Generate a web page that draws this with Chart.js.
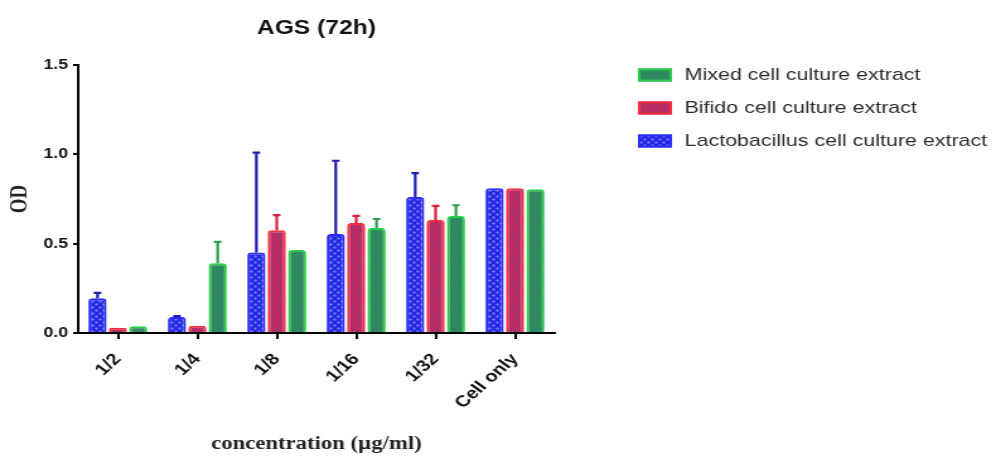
<!DOCTYPE html>
<html>
<head>
<meta charset="utf-8">
<title>AGS (72h)</title>
<script src="https://cdn.jsdelivr.net/npm/chart.js@4/dist/chart.umd.min.js"></script>
<style>
  html, body { margin: 0; padding: 0; background: #fff; overflow: hidden; }
  #c { display: block; }
</style>
</head>
<body>
<!-- the figure is laid out on a narrower canvas and shown stretched to full width -->
<canvas id="c" width="790" height="458" style="width:996px;height:458px"></canvas>
<script>
// ---- data ----
const concentrations = ['1/2', '1/4', '1/8', '1/16', '1/32', 'Cell only'];
const yTickValues = [0, 0.5, 1.0, 1.5];

const lactobacillusOD = [0.195, 0.09, 0.45, 0.554, 0.761, 0.81];
const lactobacillusSD = [0.03, 0.005, 0.56, 0.41, 0.134, 0];

const bifidoOD = [0.03, 0.04, 0.575, 0.616, 0.632, 0.81];
const bifidoSD = [0, 0, 0.085, 0.04, 0.08, 0];

const mixedOD = [0.038, 0.39, 0.465, 0.588, 0.655, 0.804];
const mixedSD = [0, 0.12, 0, 0.05, 0.06, 0];

// ---- fill patterns (dotted bars) ----
function dotPattern(base, dot) {
  const p = document.createElement('canvas');
  p.width = 6; p.height = 6;
  const g = p.getContext('2d');
  g.fillStyle = base; g.fillRect(0, 0, 6, 6);
  g.fillStyle = dot;
  g.beginPath(); g.arc(1.5, 1.5, 1.2, 0, Math.PI * 2); g.fill();
  g.beginPath(); g.arc(4.5, 4.5, 1.2, 0, Math.PI * 2); g.fill();
  return g.createPattern(p, 'repeat');
}

const SANS = '"Liberation Sans", Arial, Helvetica, sans-serif';
const SERIF = '"Liberation Serif", "Times New Roman", serif';

// upper error bars (mean + SD)
const errorBarPlugin = {
  id: 'errorBars',
  afterDatasetsDraw(chart) {
    const ctx = chart.ctx;
    const yScale = chart.scales.y;
    chart.data.datasets.forEach((ds, i) => {
      const meta = chart.getDatasetMeta(i);
      meta.data.forEach((bar, j) => {
        const sd = ds.errorUp[j];
        if (!sd) return;
        const top = yScale.getPixelForValue(ds.data[j] + sd);
        ctx.save();
        ctx.strokeStyle = ds.errorColor;
        ctx.lineWidth = 2.2;
        ctx.beginPath();
        ctx.moveTo(bar.x, bar.y);
        ctx.lineTo(bar.x, top);
        ctx.moveTo(bar.x - 3, top);
        ctx.lineTo(bar.x + 3, top);
        ctx.stroke();
        ctx.restore();
      });
    });
  }
};

// legend to the right of the plot, listed in reverse dataset order
const sideLegendPlugin = {
  id: 'sideLegend',
  afterDraw(chart) {
    const ctx = chart.ctx;
    const area = chart.chartArea;
    const x0 = area.right + 66;
    const y0 = area.top + 10;
    const step = 33;
    const items = chart.data.datasets.slice().reverse();
    ctx.save();
    ctx.font = '17px ' + SANS;
    ctx.textBaseline = 'middle';
    ctx.textAlign = 'left';
    items.forEach((ds, k) => {
      const cy = y0 + k * step;
      ctx.fillStyle = ds.backgroundColor;
      ctx.fillRect(x0, cy - 6.5, 27, 13);
      ctx.strokeStyle = ds.borderColor;
      ctx.lineWidth = 2;
      ctx.strokeRect(x0 + 1, cy - 5.5, 25, 11);
      ctx.fillStyle = '#2a2a2a';
      ctx.fillText(ds.label, x0 + 37, cy);
    });
    ctx.restore();
  }
};

const canvas = document.getElementById('c');

const barStyle = {
  borderWidth: 2,
  borderSkipped: 'bottom',
  borderRadius: { topLeft: 3, topRight: 3, bottomLeft: 0, bottomRight: 0 },
  barPercentage: 0.89,
  categoryPercentage: 0.77
};

new Chart(canvas, {
  type: 'bar',
  data: {
    labels: concentrations,
    datasets: [
      Object.assign({
        label: 'Lactobacillus cell culture extract',
        data: lactobacillusOD,
        errorUp: lactobacillusSD,
        errorColor: '#1c1cae',
        backgroundColor: dotPattern('#2424e6', '#6c7cf2'),
        borderColor: '#2b2bff'
      }, barStyle),
      Object.assign({
        label: 'Bifido cell culture extract',
        data: bifidoOD,
        errorUp: bifidoSD,
        errorColor: '#d0203e',
        backgroundColor: dotPattern('#c42a58', '#8c3a8e'),
        borderColor: '#ff2a3c'
      }, barStyle),
      Object.assign({
        label: 'Mixed cell culture extract',
        data: mixedOD,
        errorUp: mixedSD,
        errorColor: '#2f9e4c',
        backgroundColor: dotPattern('#2b8e58', '#3f7b78'),
        borderColor: '#27cf48'
      }, barStyle)
    ]
  },
  options: {
    responsive: false,
    animation: false,
    devicePixelRatio: 1,
    layout: { padding: { left: 0, right: 350, top: 0, bottom: 0 } },
    plugins: {
      legend: { display: false },
      tooltip: { enabled: false },
      title: {
        display: true,
        text: 'AGS (72h)',
        fullSize: false,
        color: '#111',
        font: { family: SANS, size: 19.5, weight: 'bold', lineHeight: 1.2 },
        padding: { top: 17.3, bottom: 24.3 }
      }
    },
    scales: {
      x: {
        type: 'category',
        offset: true,
        grid: {
          display: true, offset: false, drawOnChartArea: false, drawTicks: true,
          tickLength: 6, color: '#000', lineWidth: 2
        },
        border: { display: true, color: '#000', width: 2 },
        ticks: {
          autoSkip: false, minRotation: 48, maxRotation: 48, padding: 11,
          color: '#111', font: { family: SANS, size: 16, weight: 'bold' }
        },
        title: {
          display: true,
          text: 'concentration (µg/ml)',
          color: '#222',
          font: { family: SERIF, size: 18, weight: 'bold', lineHeight: 1.2 },
          padding: { top: 0, bottom: 3 }
        },
        afterFit(scale) { scale.height = 125; }
      },
      y: {
        min: 0,
        max: 1.5,
        afterBuildTicks(scale) { scale.ticks = yTickValues.map(v => ({ value: v })); },
        grid: {
          display: true, drawOnChartArea: false, drawTicks: true,
          tickLength: 4, color: '#000', lineWidth: 2
        },
        border: { display: true, color: '#000', width: 2 },
        ticks: {
          padding: 4,
          color: '#111',
          font: { family: SANS, size: 14, weight: 'bold' },
          callback: v => Number(v).toFixed(1)
        },
        title: {
          display: true,
          text: 'OD',
          color: '#222',
          font: { family: SERIF, size: 19, weight: 'bold', lineHeight: 1.2 },
          padding: { top: 4.2, bottom: 0 }
        },
        afterFit(scale) { scale.width = 62; }
      }
    }
  },
  plugins: [errorBarPlugin, sideLegendPlugin]
});
</script>
</body>
</html>
